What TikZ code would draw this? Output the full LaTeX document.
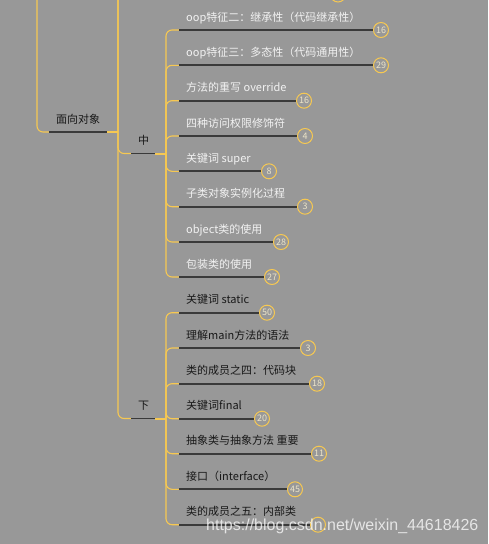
\documentclass[tikz,border=0pt]{standalone}
\usepackage{fontspec}
\setmainfont{Noto Sans CJK SC}
\newfontfamily\urlfont{Liberation Sans}
\definecolor{mapbg}{RGB}{152,152,152}
\definecolor{mapyellow}{RGB}{246,200,82}
\definecolor{mapdark}{RGB}{58,58,58}
\definecolor{midtext}{RGB}{242,242,242}
\definecolor{lowtext}{RGB}{24,24,24}
\definecolor{badgetext}{RGB}{236,228,200}
\tikzset{
% Mind map pieces: yellow branches, dark underlines, labels and count badges
branch/.style={draw=mapyellow,line width=1.1pt,rounded corners=6pt},
joint/.style={draw=mapyellow,line width=2pt},
underline/.style={draw=mapdark,line width=1.7pt},
mid label/.style={anchor=base west,inner sep=0,text=midtext,font=\fontsize{11}{12}\selectfont},
low label/.style={mid label,text=lowtext},
badge/.style={circle,draw=mapyellow,line width=1pt,minimum size=15pt,inner sep=0,text=badgetext,font=\fontsize{9}{9}\selectfont}
}

\begin{document}
\begin{tikzpicture}[x=1pt,y=-1pt]
\fill[mapbg] (0,0) rectangle (488,544);
\clip (0,0) rectangle (488,544);

\coordinate (rootTop) at (37,0);
\coordinate (stemTop) at (118,0);
\node[badge] (prevb) at (338,-5.5) {};

% 面向对象
\coordinate (oopL) at (49,132);
\coordinate (oopR) at (107,132);
\coordinate (oopJ) at (118,132);
\node[low label] (oop) at (56,123.5) {面向对象};
\draw[branch] (rootTop) |- (oopL);
\draw[underline] (oopL) -- (oopR);
\draw[joint] (oopR) -- (oopJ);

% 中
\coordinate (zhongL) at (131,153.5);
\coordinate (zhongR) at (155,153.5);
\coordinate (zhongJ) at (166,153.5);
\node[low label] (zhong) at (138,144.5) {中};
\draw[branch] (stemTop) |- (zhongL);
\draw[underline] (zhongL) -- (zhongR);
\draw[joint] (zhongR) -- (zhongJ);

\coordinate (m1) at (179,30);
\node[mid label] (m1t) at (186,21) {oop特征二：继承性（代码继承性）};
\node[badge] (m1b) at (381,30) {16};
\coordinate (m2) at (179,65.3);
\node[mid label] (m2t) at (186,56.3) {oop特征三：多态性（代码通用性）};
\node[badge] (m2b) at (381,65.3) {29};
\coordinate (m3) at (179,100.7);
\node[mid label] (m3t) at (186,91.7) {方法的重写 override};
\node[badge] (m3b) at (304,100.7) {16};
\coordinate (m4) at (179,136);
\node[mid label] (m4t) at (186,127) {四种访问权限修饰符};
\node[badge] (m4b) at (305,136) {4};
\coordinate (m5) at (179,171.3);
\node[mid label] (m5t) at (186,162.3) {关键词 super};
\node[badge] (m5b) at (269,171.3) {8};
\coordinate (m6) at (179,206.7);
\node[mid label] (m6t) at (186,197.7) {子类对象实例化过程};
\node[badge] (m6b) at (305,206.7) {3};
\coordinate (m7) at (179,242);
\node[mid label] (m7t) at (186,233) {object类的使用};
\node[badge] (m7b) at (281,242) {28};
\coordinate (m8) at (179,277);
\node[mid label] (m8t) at (186,268) {包装类的使用};
\node[badge] (m8b) at (272,277) {27};

\draw[branch] (zhongJ) |- (m1);
\draw[branch] (zhongJ) |- (m2);
\draw[branch] (zhongJ) |- (m3);
\draw[branch] (zhongJ) |- (m4);
\draw[branch] (zhongJ) |- (m5);
\draw[branch] (zhongJ) |- (m6);
\draw[branch] (zhongJ) |- (m7);
\draw[branch] (zhongJ) |- (m8);
\draw[underline] (m1) -- (m1b);
\draw[underline] (m2) -- (m2b);
\draw[underline] (m3) -- (m3b);
\draw[underline] (m4) -- (m4b);
\draw[underline] (m5) -- (m5b);
\draw[underline] (m6) -- (m6b);
\draw[underline] (m7) -- (m7b);
\draw[underline] (m8) -- (m8b);

% 下
\coordinate (xiaL) at (131,418.5);
\coordinate (xiaR) at (155,418.5);
\coordinate (xiaJ) at (166,418.5);
\node[low label] (xia) at (138,409.5) {下};
\draw[branch] (stemTop) |- (xiaL);
\draw[underline] (xiaL) -- (xiaR);
\draw[joint] (xiaR) -- (xiaJ);

\coordinate (d1) at (179,312.7);
\node[low label] (d1t) at (186,303.7) {关键词 static};
\node[badge] (d1b) at (267,312.7) {50};
\coordinate (d2) at (179,348);
\node[low label] (d2t) at (186,339) {理解main方法的语法};
\node[badge] (d2b) at (308,348) {3};
\coordinate (d3) at (179,383.7);
\node[low label] (d3t) at (186,374.7) {类的成员之四：代码块};
\node[badge] (d3b) at (317,383.7) {18};
\coordinate (d4) at (179,418.7);
\node[low label] (d4t) at (186,409.7) {关键词final};
\node[badge] (d4b) at (262,418.7) {20};
\coordinate (d5) at (179,453.7);
\node[low label] (d5t) at (186,444.7) {抽象类与抽象方法 重要};
\node[badge] (d5b) at (319,453.7) {11};
\coordinate (d6) at (179,489.3);
\node[low label] (d6t) at (186,480.3) {接口（interface）};
\node[badge] (d6b) at (295,489.3) {45};
\coordinate (d7) at (179,524.7);
\node[low label] (d7t) at (186,515.7) {类的成员之五：内部类};
\node[badge] (d7b) at (318,524.7) {};

\draw[branch] (xiaJ) |- (d1);
\draw[branch] (xiaJ) |- (d2);
\draw[branch] (xiaJ) |- (d3);
\draw[branch] (xiaJ) |- (d4);
\draw[branch] (xiaJ) |- (d5);
\draw[branch] (xiaJ) |- (d6);
\draw[branch] (xiaJ) |- (d7);
\draw[underline] (d1) -- (d1b);
\draw[underline] (d2) -- (d2b);
\draw[underline] (d3) -- (d3b);
\draw[underline] (d4) -- (d4b);
\draw[underline] (d5) -- (d5b);
\draw[underline] (d6) -- (d6b);
\draw[underline] (d7) -- (d7b);

% watermark
\node[anchor=base west,inner sep=0,text=white,opacity=0.75,font=\urlfont\fontsize{16}{18}\selectfont] (mark) at (206,530) {https://blog.csdn.net/weixin\_44618426};
\end{tikzpicture}
\end{document}
